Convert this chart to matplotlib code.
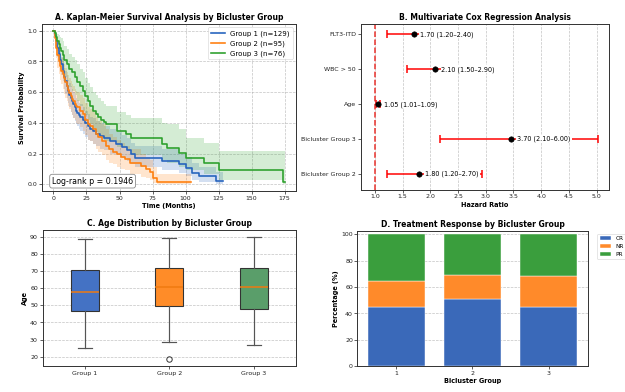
import matplotlib

matplotlib.use("Agg")
import matplotlib.pyplot as plt
import numpy as np

# ---- A. Kaplan-Meier (step points) ----
g1_t = [0, 1, 2, 3, 4, 5, 6, 7, 8, 9, 10, 11, 12, 13, 14, 15, 16, 17, 18, 19, 20, 22, 24, 26, 28, 30,
        32, 35, 38, 43, 47, 52, 56, 59, 62, 82, 95, 100, 105, 110, 123, 128]
g1_s = [1.0, .97, .93, .89, .85, .81, .78, .74, .70, .67, .64, .61, .58, .56, .54, .52, .50, .48, .465,
        .45, .44, .42, .40, .38, .36, .345, .33, .315, .30, .28, .26, .24, .22, .195, .173, .151, .13,
        .108, .076, .054, .021, .021]
g1_lo = [1.0, .93, .88, .83, .79, .75, .71, .67, .62, .59, .56, .53, .50, .47, .45, .43, .41, .39, .38,
         .36, .35, .33, .31, .29, .28, .26, .25, .23, .22, .20, .19, .17, .15, .13, .11, .09, .075,
         .055, .03, .015, .003, .003]
g1_hi = [1.0, .99, .96, .93, .90, .86, .83, .80, .76, .74, .71, .68, .66, .64, .62, .60, .58, .56, .55,
         .53, .52, .50, .48, .46, .44, .43, .41, .40, .38, .36, .34, .32, .30, .27, .25, .23, .20,
         .18, .14, .11, .08, .08]

g2_t = [0, 1, 2, 3, 4, 5, 6, 7, 8, 9, 10, 11, 12, 13, 14, 15, 16, 17, 18, 20, 22, 24, 26, 28, 30, 32,
        34, 37, 40, 42, 45, 48, 51, 54, 58, 66, 70, 73, 75, 78, 104]
g2_s = [1.0, .95, .89, .84, .80, .77, .74, .715, .69, .665, .64, .615, .595, .575, .555, .54, .525, .51,
        .50, .475, .455, .42, .395, .38, .36, .33, .305, .28, .25, .227, .21, .195, .18, .162, .141,
        .12, .10, .08, .043, .015, .015]
g2_lo = [1.0, .90, .82, .76, .72, .68, .65, .62, .59, .56, .54, .51, .49, .47, .45, .43, .42, .40, .39,
         .37, .35, .32, .29, .28, .26, .23, .21, .19, .16, .14, .13, .115, .10, .09, .07, .05, .04,
         .03, .01, .002, .002]
g2_hi = [1.0, .98, .94, .91, .87, .85, .82, .80, .78, .76, .73, .71, .69, .67, .65, .64, .62, .61, .60,
         .58, .56, .53, .50, .49, .47, .44, .41, .39, .36, .33, .31, .29, .27, .25, .23, .20, .18,
         .16, .11, .07, .07]

g3_t = [0, 1, 2, 3, 4, 5, 6, 7, 8, 10, 12, 14, 16, 18, 20, 22, 24, 26, 28, 30, 32, 34, 36, 38, 40, 48,
        55, 59, 82, 86, 95, 100, 114, 125, 174, 175]
g3_s = [1.0, .985, .96, .935, .91, .89, .87, .84, .81, .78, .75, .73, .70, .665, .64, .61, .575, .545,
        .51, .48, .46, .44, .42, .405, .395, .346, .33, .30, .264, .238, .206, .173, .141, .093, .015,
        .015]
g3_lo = [1.0, .96, .91, .87, .83, .80, .77, .74, .70, .67, .63, .61, .58, .54, .51, .48, .45, .42, .39,
         .36, .34, .32, .30, .29, .28, .24, .22, .19, .16, .14, .11, .09, .07, .03, .001, .001]
g3_hi = [1.0, 1.0, .99, .98, .97, .96, .95, .93, .90, .88, .85, .83, .81, .78, .75, .73, .69, .66, .63,
         .60, .58, .56, .54, .52, .51, .47, .45, .43, .40, .39, .36, .30, .27, .216, .216, .216]

km_labels = ["Group 1 (n=129)", "Group 2 (n=95)", "Group 3 (n=76)"]
logrank_p = 0.1946

# ---- B. Cox regression ----
cox_vars = ["Bicluster Group 2", "Bicluster Group 3", "Age", "WBC > 50", "FLT3-ITD"]
cox_hr = [1.79, 3.45, 1.05, 2.08, 1.70]
cox_lo = [1.22, 2.17, 1.01, 1.57, 1.21]
cox_hi = [2.94, 5.03, 1.09, 2.90, 2.40]
cox_text = ["1.80 (1.20\u20132.70)", "3.70 (2.10\u20136.00)", "1.05 (1.01\u20131.09)",
            "2.10 (1.50\u20132.90)", "1.70 (1.20\u20132.40)"]

# ---- C. Age boxplot (five-number summaries) ----
age_groups = ["Group 1", "Group 2", "Group 3"]
age_low = [25.2, 28.7, 27.0]
age_q1 = [46.5, 49.8, 48.0]
age_med = [57.7, 60.8, 60.4]
age_q3 = [70.3, 71.4, 71.4]
age_high = [88.7, 89.1, 90.0]
age_outliers = [[], [18.4], []]

# ---- D. Treatment response (%) ----
resp_groups = [1, 2, 3]
resp_cr = [45.0, 50.5, 44.7]
resp_nr = [19.4, 18.9, 23.7]
resp_pr = [35.7, 30.5, 31.6]

KM_COLORS = ["#2462bd", "#ff7f0e", "#2ca02c"]
BOX_COLORS = ["#4472c4", "#ff8c28", "#5a9e6a"]
BAR_COLORS = ["#3a69b9", "#ff8a2a", "#3a9e3d"]
SPINE = "#333333"


def _style(ax, title, grid_axis="both"):
    ax.set_title(title, fontsize=14, fontweight="bold", pad=7)
    ax.tick_params(labelsize=11.5, colors="#222222", length=5, width=1.3)
    for sp in ax.spines.values():
        sp.set_color(SPINE)
        sp.set_linewidth(1.8)
    ax.grid(True, axis=grid_axis, linestyle="--", color="#aaaaaa", alpha=0.7, linewidth=1.3)
    ax.set_axisbelow(True)


fig = plt.figure(figsize=(16, 10.04), dpi=625 / 16)
ax_a = fig.add_axes([0.067, 0.512, 0.407, 0.427])
ax_b = fig.add_axes([0.577, 0.516, 0.397, 0.423])
ax_c = fig.add_axes([0.068, 0.066, 0.406, 0.347])
ax_d = fig.add_axes([0.572, 0.066, 0.368, 0.345])

# A
series = [(g1_t, g1_s, g1_lo, g1_hi), (g2_t, g2_s, g2_lo, g2_hi), (g3_t, g3_s, g3_lo, g3_hi)]
for (t, s, lo, hi), col, lab in zip(series, KM_COLORS, km_labels):
    ax_a.fill_between(t, lo, hi, step="post", color=col, alpha=0.2, linewidth=0)
    ax_a.step(t, s, where="post", color=col, linewidth=3, label=lab)
_style(ax_a, "A. Kaplan-Meier Survival Analysis by Bicluster Group")
ax_a.set_xlabel("Time (Months)", fontsize=12, fontweight="bold")
ax_a.set_ylabel("Survival Probability", fontsize=12, fontweight="bold")
ax_a.set_ylim(-0.045, 1.045)
ax_a.legend(loc="upper right", fontsize=13, framealpha=0.9)
ax_a.text(0.04, 0.06, f"Log-rank p = {logrank_p:.4f}", transform=ax_a.transAxes, fontsize=14.5,
          va="center", bbox=dict(boxstyle="round,pad=0.3", facecolor="white", edgecolor="#888888",
                                 linewidth=1.5))

# B
ypos = np.arange(len(cox_vars))
hr = np.array(cox_hr)
xerr = [hr - np.array(cox_lo), np.array(cox_hi) - hr]
ax_b.errorbar(hr, ypos, xerr=xerr, fmt="o", color="black", ecolor="red", elinewidth=2.8,
              capsize=8, capthick=2.8, markersize=10)
ax_b.axvline(1.0, color="#e8302a", linestyle="--", linewidth=2.8)
for y, h, txt in zip(ypos, cox_hr, cox_text):
    ax_b.text(h + 0.12, y, txt, va="center", ha="left", fontsize=12,
              bbox=dict(boxstyle="square,pad=0.15", facecolor="white", edgecolor="none"))
ax_b.set_yticks(ypos)
ax_b.set_yticklabels(cox_vars)
ax_b.set_xlim(0.74, 5.22)
ax_b.set_ylim(-0.45, 4.3)
ax_b.set_xticks(np.arange(1.0, 5.01, 0.5))
_style(ax_b, "B. Multivariate Cox Regression Analysis", grid_axis="x")
ax_b.set_xlabel("Hazard Ratio", fontsize=12, fontweight="bold")

# C
stats = []
for i, lab in enumerate(age_groups):
    stats.append(dict(label=lab, whislo=age_low[i], q1=age_q1[i], med=age_med[i],
                      q3=age_q3[i], whishi=age_high[i], fliers=age_outliers[i]))
bp = ax_c.bxp(stats, patch_artist=True, widths=0.33,
              boxprops=dict(edgecolor=SPINE, linewidth=2),
              medianprops=dict(color="#f07a10", linewidth=2.8),
              whiskerprops=dict(color="#555555", linewidth=2.2),
              capprops=dict(color="#555555", linewidth=2.2),
              flierprops=dict(marker="o", markerfacecolor="none", markeredgecolor="#333333",
                              markersize=10, markeredgewidth=1.8))
for patch, col in zip(bp["boxes"], BOX_COLORS):
    patch.set_facecolor(col)
_style(ax_c, "C. Age Distribution by Bicluster Group", grid_axis="y")
ax_c.set_ylabel("Age", fontsize=12, fontweight="bold")
ax_c.set_ylim(14.5, 93.8)

# D
x = np.array(resp_groups)
cr = np.array(resp_cr)
nr = np.array(resp_nr)
pr = np.array(resp_pr)
ax_d.bar(x, cr, width=0.75, color=BAR_COLORS[0], label="CR", edgecolor="white", linewidth=0.8)
ax_d.bar(x, nr, width=0.75, bottom=cr, color=BAR_COLORS[1], label="NR", edgecolor="white", linewidth=0.8)
ax_d.bar(x, pr, width=0.75, bottom=cr + nr, color=BAR_COLORS[2], label="PR", edgecolor="white", linewidth=0.8)
_style(ax_d, "D. Treatment Response by Bicluster Group", grid_axis="y")
ax_d.set_xticks(x)
ax_d.set_ylim(0, 102.5)
ax_d.set_xlabel("Bicluster Group", fontsize=12, fontweight="bold")
ax_d.set_ylabel("Percentage (%)", fontsize=12, fontweight="bold")
ax_d.legend(loc="upper left", bbox_to_anchor=(1.03, 1.0), fontsize=10.5, framealpha=0.9)

fig.savefig("out.png", dpi=625 / 16, facecolor="white")
plt.close(fig)
